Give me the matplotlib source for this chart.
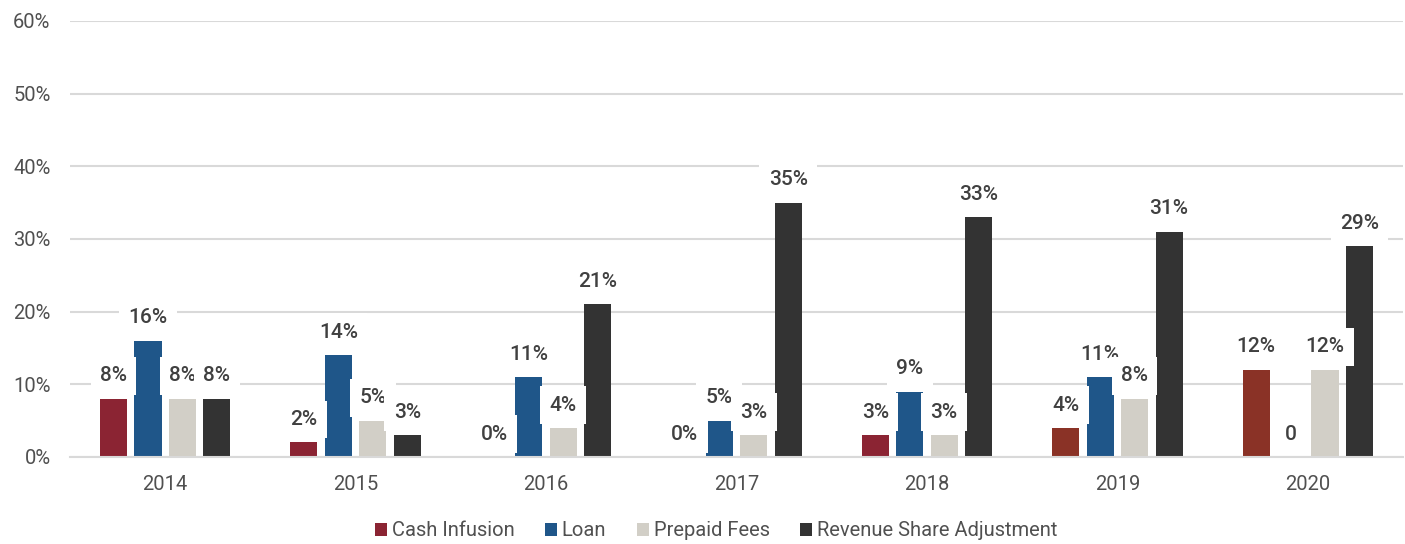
import matplotlib.pyplot as plt
import numpy as np

years = ['2014', '2015', '2016', '2017', '2018', '2019', '2020']
series = ['Cash Infusion', 'Loan', 'Prepaid Fees', 'Revenue Share Adjustment']
cash = [8, 2, 0, 0, 3, 4, 12]
loan = [16, 14, 11, 5, 9, 11, 0]
prepaid = [8, 5, 4, 3, 3, 8, 12]
revenue = [8, 3, 21, 35, 33, 31, 29]
loan_labels = ['16%', '14%', '11%', '5%', '9%', '11%', '0']

cash_colors = ['#8B2433', '#8B2433', '#8B2433', '#8B2433', '#8B2433', '#8A3226', '#8A3226']
colors = ['#8A3226', '#1F5689', '#D2CFC7', '#333333']

plt.rcParams['font.family'] = ['Roboto', 'DejaVu Sans']

fig = plt.figure(figsize=(14.05, 5.44), dpi=100)
ax = fig.add_axes([70 / 1405, 1 - 457 / 544, 1333 / 1405, 436 / 544])

x = np.arange(len(years))
pitch = 0.181
width = 0.142
data = [cash, loan, prepaid, revenue]
labels = [[f'{v}%' for v in cash], loan_labels,
          [f'{v}%' for v in prepaid], [f'{v}%' for v in revenue]]

for i, vals in enumerate(data):
    pos = x + (i - 1.5) * pitch
    col = cash_colors if i == 0 else colors[i]
    ax.bar(pos, vals, width, color=col, zorder=2, label=series[i])
    for p, v, t in zip(pos, vals, labels[i]):
        ax.annotate(t, (p, v), xytext=(0, 16.5), textcoords='offset points',
                    ha='center', va='center', fontsize=15, color='#404040',
                    fontweight='medium', zorder=5,
                    bbox=dict(boxstyle='square,pad=0.45', fc='white', ec='none'))

ax.set_ylim(0, 60)
ax.set_xlim(-0.5, len(years) - 0.5)
ax.set_yticks(range(0, 61, 10))
ax.set_yticklabels([f'{v}%' for v in range(0, 61, 10)])
ax.set_xticks(x)
ax.set_xticklabels(years)
ax.yaxis.grid(True, color='#D9D9D9', linewidth=1.5, zorder=0)
ax.set_axisbelow(True)
for s in ['top', 'right', 'left']:
    ax.spines[s].set_visible(False)
ax.spines['bottom'].set_color('#D9D9D9')
ax.spines['bottom'].set_linewidth(1.5)
ax.tick_params(axis='both', length=0, labelsize=14.5, labelcolor='#505050')
ax.tick_params(axis='y', pad=14)
ax.tick_params(axis='x', pad=13)

fig.legend(loc='center', bbox_to_anchor=(716 / 1405, 1 - 531 / 544), ncol=4,
           frameon=False, handlelength=0.6, handleheight=0.6,
           handletextpad=0.25, columnspacing=1.5, labelcolor='#505050',
           prop={'size': 14.5})

plt.savefig('out.png', dpi=100)
